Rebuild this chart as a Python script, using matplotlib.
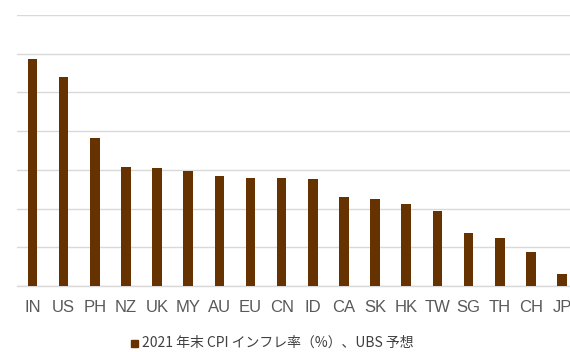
import matplotlib
matplotlib.use("Agg")
import matplotlib.pyplot as plt
import numpy as np

countries = ["IN", "US", "PH", "NZ", "UK", "MY", "AU", "EU", "CN", "ID",
             "CA", "SK", "HK", "TW", "SG", "TH", "CH", "JP"]
cpi_2021 = [5.86, 5.41, 3.82, 3.08, 3.06, 2.96, 2.83, 2.78, 2.78, 2.77,
            2.29, 2.25, 2.11, 1.93, 1.36, 1.25, 0.89, 0.31]
grid_levels = [0, 1, 2, 3, 4, 5, 6, 7]
legend_label = "2021 年末 CPI インフレ率（%）、UBS 予想"

BAR_COLOR = "#663300"
GRID_COLOR = "#d9d9d9"

plt.rcParams["font.family"] = ["Liberation Sans Narrow", "Liberation Sans", "DejaVu Sans"]

fig = plt.figure(figsize=(5.7, 3.52), dpi=100)
ax = fig.add_axes([0.0296, 0.1875, 0.9837, 0.7699])

x = np.arange(len(countries))
ax.bar(x, cpi_2021, width=0.31, color=BAR_COLOR, zorder=3)

ax.set_xlim(-0.5, len(countries) - 0.5)
ax.set_ylim(grid_levels[0], grid_levels[-1])
ax.set_yticks(grid_levels)
ax.yaxis.grid(True, color=GRID_COLOR, linewidth=1.0, zorder=0)
ax.tick_params(axis="y", left=False, labelleft=False)

ax.set_xticks(x)
ax.set_xticklabels(countries, fontsize=12, color="#595959")
ax.tick_params(axis="x", length=0, pad=10)

for side in ["top", "right", "left"]:
    ax.spines[side].set_visible(False)
ax.spines["bottom"].set_color(GRID_COLOR)
ax.spines["bottom"].set_linewidth(1.0)

# legend drawn by hand at the bottom
fig.patches.append(plt.Rectangle((131 / 570, 1 - 347 / 352), 7 / 570, 7 / 352,
                                 transform=fig.transFigure, color=BAR_COLOR))
fig.text(142 / 570, 1 - 343 / 352, legend_label, fontsize=10, color="#404040",
         va="center", ha="left", family=["Noto Sans CJK JP", "DejaVu Sans"])

fig.savefig("out.png", dpi=100)
